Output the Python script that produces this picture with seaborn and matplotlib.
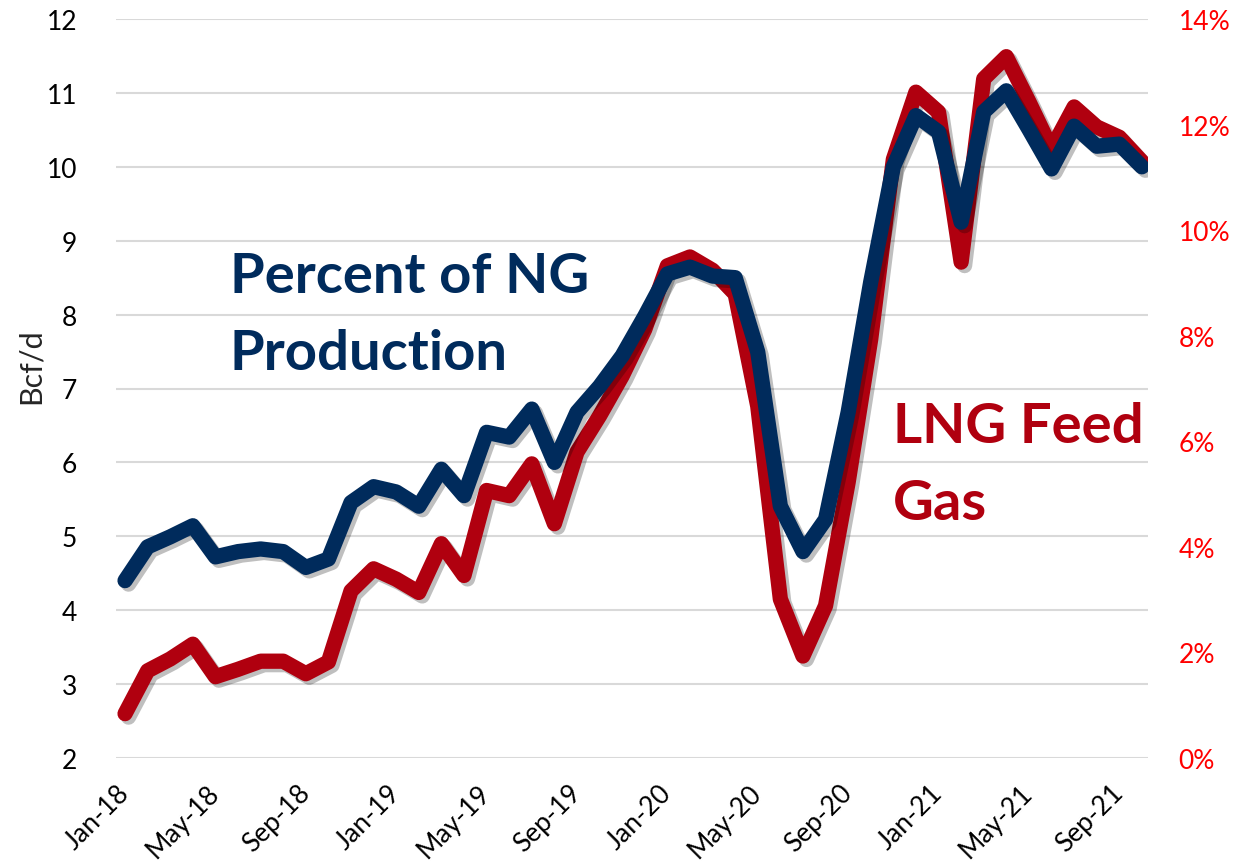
import numpy as np
import pandas as pd
import matplotlib
matplotlib.use("Agg")
import matplotlib.pyplot as plt
import matplotlib.patheffects as pe
import seaborn as sns
from matplotlib.ticker import FuncFormatter, FixedLocator

# ---------------- data ----------------
month_labels = pd.date_range("2018-01-01", periods=46, freq="MS").strftime("%b-%y").tolist()

lng_feed_gas = [2.60, 3.18, 3.34, 3.54, 3.10, 3.20, 3.31, 3.31, 3.14, 3.30,
                4.26, 4.56, 4.42, 4.24, 4.90, 4.47, 5.62, 5.55, 5.98, 5.17,
                6.14, 6.63, 7.17, 7.80, 8.66, 8.78, 8.60, 8.28, 6.76, 4.15,
                3.38, 4.06, 5.73, 7.67, 10.10, 11.01, 10.74, 8.71, 11.19, 11.49,
                10.88, 10.24, 10.81, 10.54, 10.40, 10.07]

pct_of_production = [3.36, 4.00, 4.19, 4.40, 3.81, 3.91, 3.96, 3.91, 3.61, 3.77,
                     4.84, 5.14, 5.04, 4.77, 5.47, 4.97, 6.17, 6.08, 6.61, 5.60,
                     6.55, 7.04, 7.62, 8.37, 9.17, 9.30, 9.13, 9.10, 7.69, 4.77,
                     3.91, 4.52, 6.55, 9.02, 11.20, 12.17, 11.86, 10.15, 12.24, 12.64,
                     11.91, 11.16, 11.97, 11.59, 11.63, 11.20]

left_ticks = [2, 3, 4, 5, 6, 7, 8, 9, 10, 11, 12]
right_ticks = [0, 2, 4, 6, 8, 10, 12, 14]

RED = "#B0000F"
BLUE = "#002B5C"

df = pd.DataFrame({"idx": np.arange(len(month_labels)),
                   "month": month_labels,
                   "lng": lng_feed_gas,
                   "pct": pct_of_production})

# ---------------- style ----------------
sns.set_style("white")
plt.rcParams['font.family'] = ['Lato', 'DejaVu Sans']

W, H = 1238, 862
fig = plt.figure(figsize=(W / 100, H / 100), dpi=100)
ax = fig.add_axes([116 / W, 1 - 759 / H, (1148 - 116) / W, (759 - 20) / H])
ax2 = ax.twinx()

shadow = [pe.SimpleLineShadow(offset=(2.5, -2.5), shadow_color="black", alpha=0.25),
          pe.Normal()]

sns.lineplot(data=df, x="idx", y="lng", ax=ax, color=RED, linewidth=11,
             solid_joinstyle="round", solid_capstyle="round", path_effects=shadow)
sns.lineplot(data=df, x="idx", y="pct", ax=ax2, color=BLUE, linewidth=11,
             solid_joinstyle="round", solid_capstyle="round", path_effects=shadow)

ax.set_xlim(-0.4, 45.27)
ax.set_ylim(2, 12)
ax2.set_ylim(0, 14)

ax.yaxis.set_major_locator(FixedLocator(left_ticks))
ax2.yaxis.set_major_locator(FixedLocator(right_ticks))
ax2.yaxis.set_major_formatter(FuncFormatter(lambda v, p: f"{v:.0f}%"))

xt = list(range(0, len(month_labels), 4))
ax.set_xticks(xt)
ax.set_xticklabels([month_labels[i] for i in xt], rotation=45, ha="right",
                   va="center", rotation_mode="anchor", fontsize=19)

ax.grid(axis="y", color="#D9D9D9", linewidth=1.5)
ax.grid(axis="x", visible=False)
ax2.grid(False)
for a in (ax, ax2):
    for s in a.spines.values():
        s.set_visible(False)

ax.tick_params(axis="y", length=0, pad=28, labelsize=19, labelcolor="black")
ax.tick_params(axis="x", length=0, pad=22, labelcolor="black")
ax2.tick_params(axis="y", length=0, pad=22, labelsize=19, labelcolor="#FF0000")

ax.set_xlabel("")
ax2.set_ylabel("")
ax.set_ylabel("Bcf/d", fontsize=22)
ax.yaxis.set_label_coords(-0.069, 0.532)

# annotations
fig.text(230 / W, 1 - 293 / H, "Percent of NG", color=BLUE, fontsize=40.5,
         fontweight="bold", va="baseline", ha="left")
fig.text(230 / W, 1 - 370 / H, "Production", color=BLUE, fontsize=40.5,
         fontweight="bold", va="baseline", ha="left")
fig.text(893 / W, 1 - 443 / H, "LNG Feed", color=RED, fontsize=40.5,
         fontweight="bold", va="baseline", ha="left")
fig.text(893 / W, 1 - 520 / H, "Gas", color=RED, fontsize=40.5,
         fontweight="bold", va="baseline", ha="left")

fig.savefig("out.png", dpi=100)
